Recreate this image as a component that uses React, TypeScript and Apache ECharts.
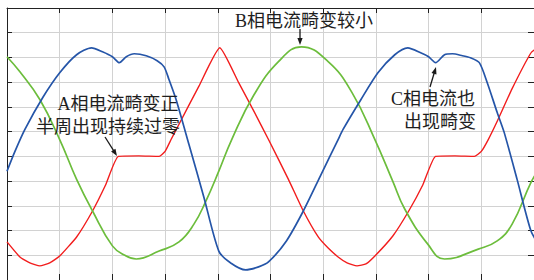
import React, { useEffect, useRef } from "react";
import * as echarts from "echarts";

// x in grid units (0..10), y in grid units (-5..6)
const redX = [0, 0.245, 0.434, 0.623, 0.811, 1.0, 1.321, 1.623, 1.868, 2.113, 2.5, 2.887, 3.0, 3.113, 3.264, 3.642, 4.038, 4.396, 4.679, 4.962, 5.34, 5.623, 5.906, 6.094, 6.283, 6.453, 6.642, 6.811, 6.981, 7.321, 7.623, 7.887, 8.132, 8.5, 8.868, 9.0, 9.132, 9.302, 9.585, 9.943, 10.057];
const redY = [-3.46, -4.07, -4.31, -4.43, -4.31, -4.03, -3.26, -2.21, -1.17, 0, 0.02, 0, 0.2, 0.68, 1.3, 2.84, 4.39, 2.98, 1.85, 0.68, -0.93, -2.21, -3.26, -3.71, -4.07, -4.31, -4.43, -4.35, -4.03, -3.22, -2.21, -1.17, 0, 0.02, 0, 0.2, 0.68, 1.42, 2.74, 4.19, 4.39];

const greenX = [0, 0.245, 0.623, 1.0, 1.321, 1.623, 2.0, 2.226, 2.453, 2.887, 3.264, 3.547, 3.774, 4.019, 4.264, 4.679, 5.151, 5.585, 6.094, 6.547, 6.981, 7.321, 7.547, 7.981, 8.302, 8.943, 9.302, 9.585, 9.943, 10.1];
const greenY = [4.03, 3.42, 2.3, 0.68, -0.93, -2.21, -3.62, -3.99, -4.15, -3.83, -3.46, -2.74, -1.81, -0.6, 0.68, 2.46, 3.83, 4.43, 3.83, 2.58, 0.68, -1.01, -2.13, -3.54, -4.15, -3.75, -3.42, -2.74, -1.05, -0.5];

const blueX = [0, 0.151, 0.34, 0.679, 1.0, 1.321, 1.604, 1.811, 2.0, 2.132, 2.264, 2.415, 2.642, 2.849, 2.981, 3.075, 3.208, 3.453, 3.736, 4.019, 4.245, 4.528, 4.774, 4.962, 5.302, 5.623, 5.943, 6.283, 6.377, 6.717, 7.038, 7.358, 7.604, 7.849, 8.0, 8.132, 8.302, 8.453, 8.642, 8.792, 8.962, 9.113, 9.302, 9.434, 9.679, 9.943, 10.1];
const blueY = [-0.6, 0.2, 1.09, 2.38, 3.38, 4.11, 4.39, 4.23, 4.03, 3.79, 4.03, 4.15, 4.07, 3.87, 3.62, 3.1, 2.3, 0.48, -1.65, -3.83, -4.31, -4.59, -4.47, -4.27, -3.42, -2.21, -0.81, 0.68, 1.09, 2.3, 3.38, 4.11, 4.39, 4.19, 4.03, 3.79, 4.11, 4.15, 4.07, 3.99, 3.79, 2.98, 1.77, 0.97, -0.93, -3.02, -3.6];

const xTicks = [0, 10, 1];
const yTicks = [-5, 6, 1];

const notes = [
  { text: "A相电流畸变正", cx: 118, cy: 104 },
  { text: "半周出现持续过零", cx: 108, cy: 127 },
  { text: "B相电流畸变较小", cx: 304, cy: 21 },
  { text: "C相电流也", cx: 433, cy: 99 },
  { text: "出现畸变", cx: 440, cy: 122 },
];
const arrows = [
  { from: [105, 137], to: [117, 156] },
  { from: [300, 29], to: [300, 45] },
  { from: [430, 87], to: [436, 67] },
];

function zip(xs: number[], ys: number[]) {
  return xs.map((x, i) => [x, ys[i]]);
}

function arrowGraphics(a: { from: number[]; to: number[] }) {
  const [x1, y1] = a.from;
  const [x2, y2] = a.to;
  const dx = x2 - x1, dy = y2 - y1;
  const len = Math.hypot(dx, dy);
  const ux = dx / len, uy = dy / len;
  const hl = 7, hw = 2.6;
  const bx = x2 - ux * hl, by = y2 - uy * hl;
  const px = -uy, py = ux;
  return [
    { type: "line", shape: { x1, y1, x2: bx + ux, y2: by + uy }, style: { stroke: "#1a1a1a", lineWidth: 1.3 }, z: 10 },
    {
      type: "polygon",
      shape: { points: [[x2, y2], [bx + px * hw, by + py * hw], [bx - px * hw, by - py * hw]] },
      style: { fill: "#1a1a1a" },
      z: 10,
    },
  ];
}

export default function App() {
  const ref = useRef<HTMLDivElement>(null);
  useEffect(() => {
    if (!ref.current) return;
    const chart = echarts.init(ref.current, undefined, { renderer: "svg" });
    const axisLine = { show: true, onZero: false, lineStyle: { color: "#222", width: 1 } };
    const font = '18px "Liberation Serif", "Noto Sans CJK SC", serif';
    chart.setOption({
      animation: false,
      backgroundColor: "#ffffff",
      grid: { left: 7, top: 8, width: 530, height: 273, containLabel: false },
      xAxis: [
        {
          type: "value", min: xTicks[0], max: xTicks[1], interval: xTicks[2], position: "bottom",
          axisLine, axisTick: { show: true, inside: true, length: 6, lineStyle: { color: "#222" } },
          axisLabel: { show: false },
          splitLine: { show: true, lineStyle: { color: "#d2d2d2", width: 1 } },
        },
        {
          type: "value", min: xTicks[0], max: xTicks[1], interval: xTicks[2], position: "top",
          axisLine, axisTick: { show: true, inside: true, length: 5, lineStyle: { color: "#222" } },
          axisLabel: { show: false }, splitLine: { show: false },
        },
      ],
      yAxis: [
        {
          type: "value", min: yTicks[0], max: yTicks[1], interval: yTicks[2], position: "left",
          axisLine, axisTick: { show: true, inside: true, length: 5, lineStyle: { color: "#222" } },
          axisLabel: { show: false },
          splitLine: { show: true, lineStyle: { color: "#d2d2d2", width: 1 } },
        },
        {
          type: "value", min: yTicks[0], max: yTicks[1], interval: yTicks[2], position: "right",
          axisLine, axisTick: { show: true, inside: true, length: 6, lineStyle: { color: "#222" } },
          axisLabel: { show: false }, splitLine: { show: false },
        },
      ],
      series: [
        { name: "A", type: "line", data: zip(redX, redY), showSymbol: false, clip: true, smooth: 0.15, lineStyle: { color: "#f21d1d", width: 1.4 }, z: 3 },
        { name: "B", type: "line", data: zip(greenX, greenY), showSymbol: false, clip: true, smooth: 0.45, lineStyle: { color: "#6cbd3c", width: 1.7 }, z: 3 },
        { name: "C", type: "line", data: zip(blueX, blueY), showSymbol: false, clip: true, smooth: 0.25, lineStyle: { color: "#2555a8", width: 1.7 }, z: 3 },
      ],
      graphic: [
        ...notes.map((n) => ({
          type: "text",
          x: n.cx,
          y: n.cy,
          z: 10,
          style: { text: n.text, font, fill: "#1e1e1e", textAlign: "center", textVerticalAlign: "middle" },
        })),
        ...arrows.flatMap(arrowGraphics),
      ],
    });
    return () => chart.dispose();
  }, []);
  return <div ref={ref} style={{ position: "absolute", left: 0, top: 0, width: 534, height: 280 }} />;
}
